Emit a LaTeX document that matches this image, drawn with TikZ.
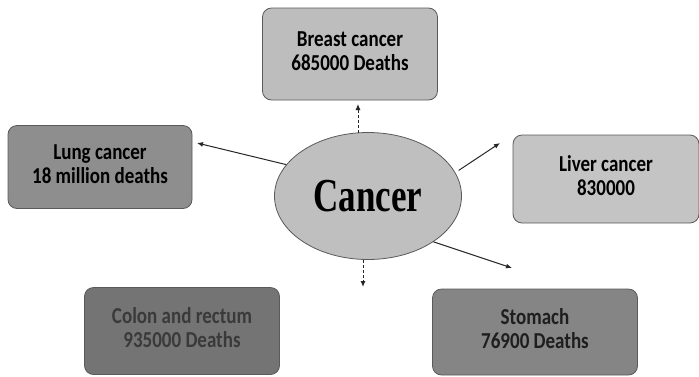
\documentclass[tikz,border=0pt]{standalone}
\usepackage{fontspec}
\setmainfont{Carlito}
\newfontfamily\serifcancer{Liberation Serif}
\usetikzlibrary{shapes.geometric,arrows.meta}
\definecolor{boxA}{HTML}{BDBDBD}
\definecolor{boxB}{HTML}{8E8E8E}
\definecolor{boxC}{HTML}{C4C4C4}
\definecolor{boxD}{HTML}{747474}
\definecolor{boxE}{HTML}{858585}
\definecolor{ellC}{HTML}{BFBFBF}
\definecolor{edgeC}{HTML}{5A5A5A}
\definecolor{colontext}{HTML}{3A3A3A}
\definecolor{stomtext}{HTML}{1E1E1E}
\newcommand{\twolines}[2]{\scalebox{1}[1.2]{\begin{tabular}{@{}c@{}}#1\\#2\end{tabular}}}
\tikzset{
  infobox/.style={draw=edgeC, line width=0.8pt, rounded corners=9pt, align=center,
    font=\fontsize{19}{19.5}\selectfont\bfseries, inner sep=0pt},
  conn/.style={-{Latex[length=6pt,width=5pt]}, line width=1pt, draw=black!85},
}
\begin{document}
\begin{tikzpicture}[x=1pt,y=-1pt]
\useasboundingbox (0,0) rectangle (699,376);
\node[draw=edgeC, line width=0.8pt, fill=ellC, ellipse, minimum width=187pt, minimum height=127pt, inner sep=0pt,
  font=\serifcancer\bfseries\fontsize{35}{40}\selectfont] (cancer) at (368,196) {\scalebox{1}[1.35]{Cancer}};
\node[infobox, fill=boxA, minimum width=175pt, minimum height=92pt, text=black] (breast) at (350,54) {\twolines{Breast cancer}{685000 Deaths}};
\node[infobox, fill=boxB, minimum width=184pt, minimum height=83pt, text=black] (lung) at (100,167) {\twolines{Lung cancer}{18 million deaths}};
\node[infobox, fill=boxC, minimum width=186pt, minimum height=88pt, text=black] (liver) at (606,179) {\twolines{Liver cancer}{830000}};
\node[infobox, fill=boxD, minimum width=195pt, minimum height=87pt, text=colontext] (colon) at (182,331) {\twolines{Colon and rectum}{935000 Deaths}};
\node[infobox, fill=boxE, minimum width=205pt, minimum height=86pt, text=stomtext] (stomach) at (535,332) {\twolines{Stomach}{76900 Deaths}};
\coordinate (upstart) at (358,133);
\coordinate (upend) at (358,104);
\coordinate (lungend) at (197,143);
\coordinate (liverend) at (500,143);
\coordinate (stomend) at (512,268);
\coordinate (downstart) at (363,260);
\coordinate (downend) at (363,287);
\draw[conn, densely dashed] (upstart) -- (upend);
\draw[conn] (cancer.159) -- (lungend);
\draw[conn, shorten <=4pt] (cancer.15) -- (liverend);
\draw[conn] (cancer.-35) -- (stomend);
\draw[conn, densely dashed] (downstart) -- (downend);
\end{tikzpicture}
\end{document}
